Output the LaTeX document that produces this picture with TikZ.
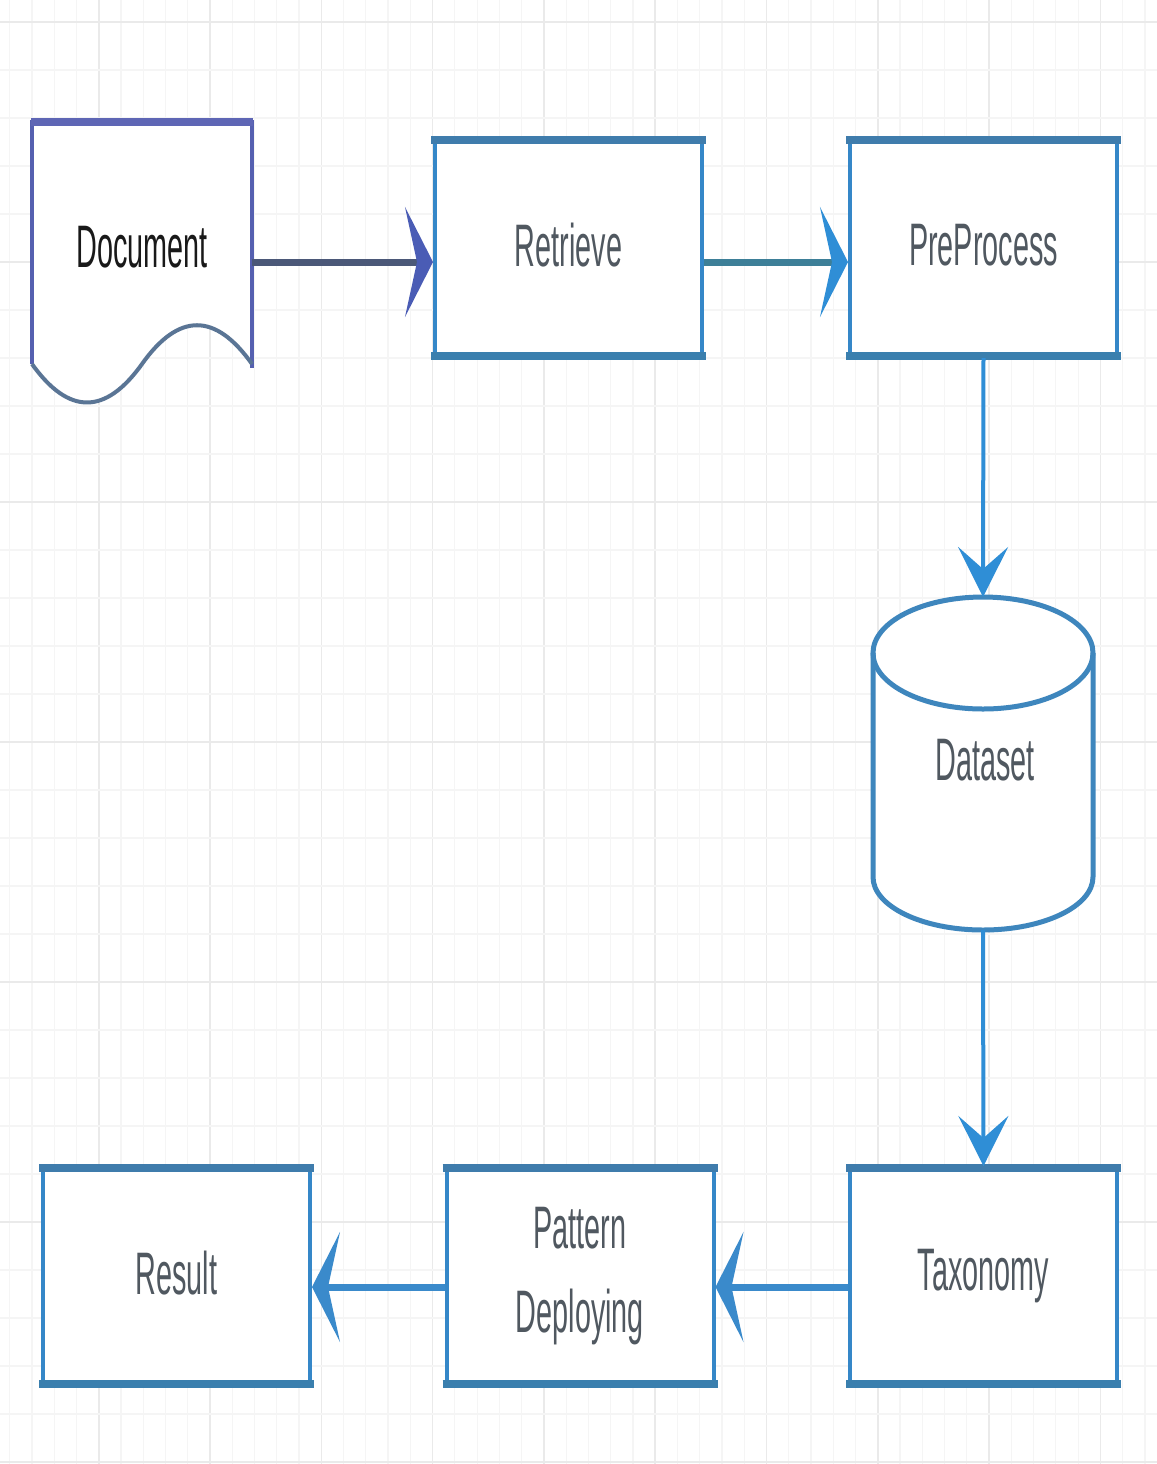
\documentclass[tikz,border=0pt]{standalone}
\usepackage{fontspec}
\newfontfamily\lbl[FakeStretch=0.48]{Liberation Sans}
\usetikzlibrary{arrows.meta}

\definecolor{gridminor}{HTML}{F5F5F5}
\definecolor{gridmajor}{HTML}{EAEAEA}
\definecolor{boxside}{HTML}{3587C8}
\definecolor{boxtop}{HTML}{3F7CAC}
\definecolor{boxbottom}{HTML}{3A7FAE}
\definecolor{txtgray}{HTML}{505860}
\definecolor{docside}{HTML}{5560B0}
\definecolor{doctop}{HTML}{5E66B5}
\definecolor{docwave}{HTML}{5A7595}
\definecolor{docline}{HTML}{4B5878}
\definecolor{dochead}{HTML}{4A5CB5}
\definecolor{tealline}{HTML}{3D7F98}
\definecolor{brightblue}{HTML}{2F8ED6}
\definecolor{midblue}{HTML}{3A8ACB}
\definecolor{cylblue}{HTML}{3E86BD}

\tikzset{
  gline/.style={gridminor, line width=0.6pt},
  gmajor/.style={gridmajor, line width=0.8pt},
  stepbox/.style={draw=boxside, fill=white, line width=2pt,
    minimum width=133.5pt, minimum height=108pt, inner sep=0pt,
    font=\lbl\fontsize{30}{42}\selectfont, text=txtgray, align=center},
  hhead/.tip={Stealth[length=14pt, width=55pt, inset=6pt]},
  vhead/.tip={Stealth[length=25pt, width=25pt, inset=11pt]},
  label/.style={font=\lbl\fontsize{30}{42}\selectfont, text=txtgray, inner sep=0pt}
}
\newcommand{\up}[1]{\raisebox{3pt}{#1}}

\begin{document}
\begin{tikzpicture}[x=0.5pt, y=-0.5pt]
\useasboundingbox (0,0) rectangle (1157,1464);
\fill[white] (0,0) rectangle (1157,1464);

% background grid
\foreach \i in {0,...,53} {
  \pgfmathsetmacro{\gx}{-12.6+\i*22.26}
  \pgfmathtruncatemacro{\m}{mod(\i,5)}
  \ifnum\m=0
    \draw[gmajor] (\gx,0) -- (\gx,1464);
  \else
    \draw[gline] (\gx,0) -- (\gx,1464);
  \fi
}
\foreach \j in {0,...,30} {
  \pgfmathsetmacro{\gy}{22+\j*48}
  \pgfmathtruncatemacro{\m}{mod(\j,5)}
  \ifnum\m=0
    \draw[gmajor] (0,\gy) -- (1157,\gy);
  \else
    \draw[gline] (0,\gy) -- (1157,\gy);
  \fi
}

% document shape
\fill[white] (32,120) -- (252,120) -- (252,364)
  .. controls (215.3,312.3) and (178.7,312.3) .. (142,364)
  .. controls (105.3,415.3) and (68.7,415.3) .. (32,364) -- cycle;
\draw[docside, line width=1.6pt] (32,364) -- (32,120);
\draw[docside, line width=1.6pt] (252,120) -- (252,368);
\draw[docwave, line width=2pt] (252,364)
  .. controls (215.3,312.3) and (178.7,312.3) .. (142,364)
  .. controls (105.3,415.3) and (68.7,415.3) .. (32,364);
\draw[doctop, line width=4pt] (31,122) -- (253,122);
\node[font=\lbl\fontsize{30}{42}\selectfont, text=black!90, inner sep=0pt] (doc) at (142,247) {Document};
\coordinate (docout) at (252,262);

% process boxes
\node[stepbox] (retrieve)   at (568.5,248)  {\up{Retrieve}};
\node[stepbox] (preprocess) at (983.5,248)  {\up{PreProcess}};
\node[stepbox] (taxonomy)   at (983.5,1276) {\up{Taxonomy}};
\node[stepbox] (pattern)    at (580,1276)   {Pattern\\Deploying};
\node[stepbox] (result)     at (176.5,1276) {\up{Result}};

\foreach \b in {retrieve,preprocess,taxonomy,pattern,result} {
  \draw[boxtop, line width=4pt] ([xshift=-1pt,yshift=-1pt]\b.north west) -- ([xshift=1pt,yshift=-1pt]\b.north east);
  \draw[boxbottom, line width=4pt] ([xshift=-1pt,yshift=1pt]\b.south west) -- ([xshift=1pt,yshift=1pt]\b.south east);
}

% dataset cylinder
\fill[white] (873,653) -- (873,877) arc[start angle=180, end angle=0, x radius=110, y radius=53]
  -- (1093,653) arc[start angle=0, end angle=-180, x radius=110, y radius=56] -- cycle;
\draw[cylblue, line width=2.5pt] (873,653) -- (873,877)
  arc[start angle=180, end angle=0, x radius=110, y radius=53] -- (1093,653);
\draw[cylblue, line width=2.5pt] (983,653) ellipse[x radius=110, y radius=56];
\node[label] (dataset) at (985,760) {Dataset};
\coordinate (dstop) at (983,597);
\coordinate (dsbot) at (983,930);
\coordinate (lowrow) at (0,1287);

% connectors
\draw[docline, line width=3.5pt, -{hhead[color=dochead]}] (docout) -- (retrieve.west |- docout);
\draw[tealline, line width=3.5pt, -{hhead[color=brightblue]}] (retrieve.east |- docout) -- (preprocess.west |- docout);
\draw[brightblue, line width=2pt, -{vhead[color=brightblue]}] (preprocess.south) -- (dstop);
\draw[brightblue, line width=2pt, -{vhead[color=brightblue]}] (dsbot) -- (taxonomy.north);
\draw[midblue, line width=3.5pt, -{hhead[color=midblue]}] (taxonomy.west |- lowrow) -- (pattern.east |- lowrow);
\draw[midblue, line width=3.5pt, -{hhead[color=midblue]}] (pattern.west |- lowrow) -- (result.east |- lowrow);
\end{tikzpicture}
\end{document}
